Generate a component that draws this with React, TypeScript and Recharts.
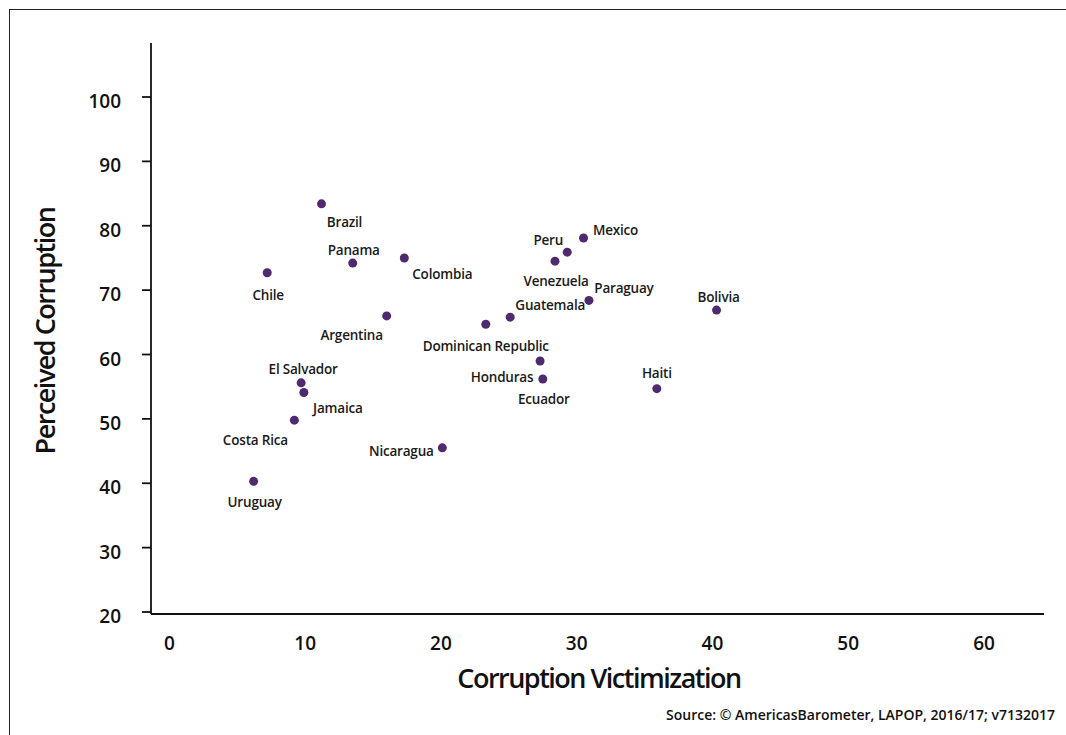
import React from 'react';
import { ScatterChart, Scatter, XAxis, YAxis } from 'recharts';

const countries = [
  'Brazil', 'Panama', 'Colombia', 'Chile', 'Argentina', 'Dominican Republic', 'Guatemala',
  'Venezuela', 'Peru', 'Mexico', 'Paraguay', 'Bolivia', 'Honduras', 'Ecuador', 'Haiti',
  'Nicaragua', 'El Salvador', 'Jamaica', 'Costa Rica', 'Uruguay',
];
const victimization = [
  11.2, 13.5, 17.3, 7.2, 16.0, 23.3, 25.1,
  28.4, 29.3, 30.5, 30.9, 40.3, 27.3, 27.5, 35.9,
  20.1, 9.7, 9.9, 9.2, 6.2,
];
const perception = [
  83.4, 74.2, 75.0, 72.7, 66.0, 64.7, 65.8,
  74.5, 75.9, 78.1, 68.4, 66.9, 59.0, 56.2, 54.7,
  45.5, 55.6, 54.1, 49.8, 40.3,
];
const xTicks = [0, 10, 20, 30, 40, 50, 60];
const yTicks = [20, 30, 40, 50, 60, 70, 80, 90, 100];

// where each country's name sits relative to its marker (text centre)
const labelOffset: Record<string, [number, number]> = {
  Brazil: [23, 18],
  Panama: [1, -13],
  Colombia: [38, 16],
  Chile: [1, 22],
  Argentina: [-35, 19],
  'Dominican Republic': [0, 22],
  Guatemala: [40, -12],
  Venezuela: [1, 20],
  Peru: [-19, -12],
  Mexico: [32, -8],
  Paraguay: [35, -12],
  Bolivia: [2, -13],
  Honduras: [-38, 16],
  Ecuador: [1, 20],
  Haiti: [0, -15],
  Nicaragua: [-41, 3],
  'El Salvador': [2, -14],
  Jamaica: [34, 16],
  'Costa Rica': [-39, 20],
  Uruguay: [1, 21],
};

const data = countries.map((name, i) => ({ name, x: victimization[i], y: perception[i] }));

const FONT = '"Open Sans", "Noto Sans", sans-serif';
const DOT = '#4f2a6e';

function Marker(props: any) {
  const { cx, cy, payload } = props;
  const [dx, dy] = labelOffset[payload.name] || [0, -12];
  return (
    <g>
      <circle cx={cx} cy={cy} r={4.5} fill={DOT} />
      <text
        x={cx + dx}
        y={cy + dy}
        dy="0.36em"
        textAnchor="middle"
        fontFamily={FONT}
        fontSize={13.5}
        fontWeight={600}
        letterSpacing={-0.2}
        fill="#1a1a1a"
      >
        {payload.name}
      </text>
    </g>
  );
}

function XTick(props: any) {
  const { x, y, payload } = props;
  return (
    <text x={x} y={y + 36} textAnchor="middle" fontFamily={FONT} fontSize={19} fontWeight={600} fill="#111">
      {payload.value}
    </text>
  );
}

function YTick(props: any) {
  const { x, y, payload } = props;
  return (
    <text x={x - 21} y={y + 11} textAnchor="end" fontFamily={FONT} fontSize={19} fontWeight={600} fill="#111">
      {payload.value}
    </text>
  );
}

export default function App() {
  return (
    <div style={{ position: 'absolute', left: 0, top: 0, width: 1066, height: 735, background: '#fff' }}>
      <div
        style={{
          position: 'absolute', left: 9, top: 9, width: 1057, height: 726, boxSizing: 'border-box',
          borderLeft: '1.5px solid #222', borderTop: '1.5px solid #222',
        }}
      />
      <div style={{ position: 'absolute', left: 0, top: 0 }}>
        <ScatterChart width={1066} height={735} margin={{ top: 43, right: 22, bottom: 81, left: 91 }}>
          <XAxis
            type="number"
            dataKey="x"
            domain={[-1.36, 64.42]}
            ticks={xTicks}
            height={40}
            tickSize={0}
            tickMargin={0}
            tickLine={false}
            axisLine={{ stroke: '#111', strokeWidth: 1.8 }}
            tick={<XTick />}
            interval={0}
            allowDataOverflow
          />
          <YAxis
            type="number"
            dataKey="y"
            domain={[19.69, 108.39]}
            ticks={yTicks}
            width={60}
            tickSize={9}
            tickMargin={0}
            tickLine={{ stroke: '#111', strokeWidth: 1.8 }}
            axisLine={{ stroke: '#111', strokeWidth: 1.8 }}
            tick={<YTick />}
            interval={0}
            allowDataOverflow
          />
          <Scatter data={data} shape={<Marker />} isAnimationActive={false} />
          <text
            x={599}
            y={688}
            textAnchor="middle"
            fontFamily={FONT}
            fontSize={27}
            fontWeight={600}
            letterSpacing={-1.5}
            fill="#111"
          >
            Corruption Victimization
          </text>
          <text
            transform="translate(55, 331) rotate(-90)"
            textAnchor="middle"
            fontFamily={FONT}
            fontSize={27}
            fontWeight={600}
            letterSpacing={-1.5}
            fill="#111"
          >
            Perceived Corruption
          </text>
          <text
            x={1055}
            y={720}
            textAnchor="end"
            fontFamily={FONT}
            fontSize={14}
            fontWeight={600}
            letterSpacing={0}
            fill="#111"
          >
            Source: © AmericasBarometer, LAPOP, 2016/17; v7132017
          </text>
        </ScatterChart>
      </div>
    </div>
  );
}
